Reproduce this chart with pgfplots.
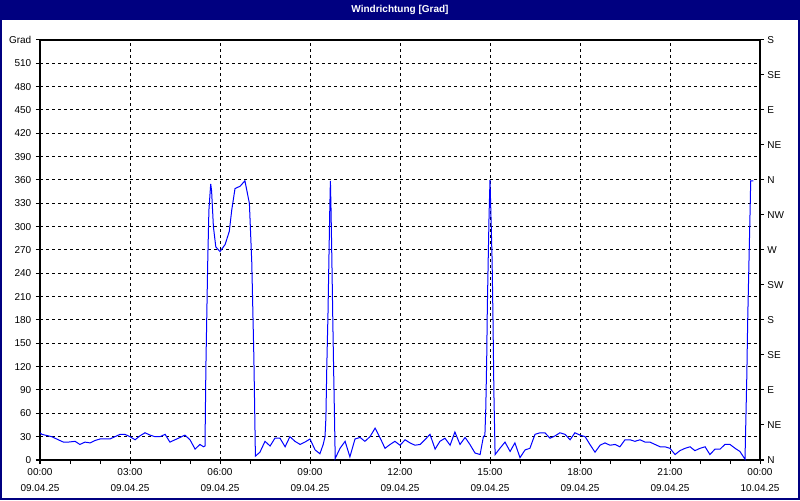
\documentclass[border=0pt]{standalone}
\usepackage{fontspec}
\setmainfont{Liberation Sans}
\usepackage{pgfplots}
\pgfplotsset{compat=1.18}
\definecolor{titlenavy}{RGB}{0,0,128}
\definecolor{lineblue}{RGB}{0,0,255}

\begin{document}
\begin{tikzpicture}
\fill[white] (0pt,0pt) rectangle (600pt,375pt);
\useasboundingbox (0pt,0pt) rectangle (600pt,375pt);
\fill[titlenavy] (0pt,360pt) rectangle (600pt,375pt);
\node[text=white, font=\bfseries\fontsize{7.5}{9}\selectfont] at (300pt,367.5pt) {Windrichtung [Grad]};
\draw[titlenavy, line width=1.5pt] (0.75pt,0.75pt) rectangle (599.25pt,374.25pt);

% main axis: degrees on the left, time on the bottom
\begin{axis}[
  at={(30pt,30pt)}, anchor=south west,
  width=540pt, height=315pt, scale only axis,
  xmin=0, xmax=24, ymin=0, ymax=540,
  xtick={0,3,...,24},
  xticklabels={{00:00\\[3pt]09.04.25},{03:00\\[3pt]09.04.25},{06:00\\[3pt]09.04.25},
    {09:00\\[3pt]09.04.25},{12:00\\[3pt]09.04.25},{15:00\\[3pt]09.04.25},
    {18:00\\[3pt]09.04.25},{21:00\\[3pt]09.04.25},{00:00\\[3pt]10.04.25}},
  minor xtick={1,2,4,5,7,8,10,11,13,14,16,17,19,20,22,23},
  xtick pos=left, ytick pos=left,
  ytick={0,30,...,540},
  yticklabels={0,30,60,90,120,150,180,210,240,270,300,330,360,390,420,450,480,510,Grad},
  grid=major,
  major grid style={black, dash pattern=on 2.25pt off 2.25pt, line width=0.75pt},
  tick align=outside, major tick length=3pt, minor tick length=3pt,
  axis line style={black, line width=1.1pt},
  tick style={black, line width=0.75pt},
  ticklabel style={font=\fontsize{7.5}{9}\selectfont},
  xticklabel style={align=center},
]
\addplot[lineblue, line width=0.75pt] coordinates {
(0,35) (0.06,33) (0.39,30) (0.61,26) (0.78,23) (0.94,23) (1.17,24) (1.33,20) (1.5,23) (1.67,22)
(1.83,25) (2.0,27) (2.33,27) (2.5,30) (2.67,33) (2.83,33) (3.0,30) (3.17,26) (3.33,31) (3.5,35)
(3.67,32) (3.83,30) (4.0,30) (4.17,33) (4.33,23) (4.5,26) (4.67,29) (4.83,32) (5.0,26) (5.17,14)
(5.33,20) (5.45,17) (5.5,18) (5.53,120) (5.59,253) (5.63,321) (5.69,355) (5.72,346) (5.78,300)
(5.86,274) (6.0,268) (6.17,277) (6.31,294) (6.39,321) (6.5,349) (6.67,352) (6.83,359) (6.98,330)
(7.06,253) (7.13,130) (7.18,5) (7.33,10) (7.5,24) (7.67,18) (7.83,28) (8.0,28) (8.17,17) (8.33,30)
(8.5,24) (8.67,20) (8.83,23) (9.0,27) (9.17,13) (9.33,8) (9.44,20) (9.5,30) (9.53,54) (9.56,120)
(9.6,189) (9.63,257) (9.66,324) (9.68,359) (9.7,324) (9.73,255) (9.76,180) (9.79,111) (9.82,48)
(9.84,2) (10.0,15) (10.17,24) (10.33,4) (10.5,27) (10.67,29) (10.83,24) (11.0,30) (11.17,41)
(11.33,29) (11.5,15) (11.67,20) (11.83,24) (12.0,19) (12.17,26) (12.33,22) (12.5,19) (12.67,20)
(12.83,26) (13.0,33) (13.17,14) (13.33,24) (13.5,28) (13.67,19) (13.83,36) (14.0,20) (14.17,29)
(14.33,20) (14.5,9) (14.67,7) (14.78,30) (14.83,32) (14.86,67) (14.89,129) (14.91,193) (14.94,257)
(14.97,317) (15.0,360) (15.03,317) (15.07,257) (15.1,180) (15.13,86) (15.17,7) (15.33,15) (15.5,23)
(15.67,11) (15.83,22) (16.0,3) (16.17,13) (16.33,15) (16.5,33) (16.67,35) (16.83,35) (17.0,28)
(17.17,31) (17.33,35) (17.5,33) (17.67,26) (17.83,35) (18.0,32) (18.17,30) (18.33,20) (18.5,10)
(18.67,19) (18.83,22) (19.0,19) (19.17,20) (19.33,17) (19.5,26) (19.67,26) (19.83,24) (20.0,26)
(20.17,23) (20.33,23) (20.5,20) (20.67,17) (20.83,17) (21.0,15) (21.17,7) (21.33,12) (21.5,15)
(21.67,17) (21.83,12) (22.0,15) (22.17,17) (22.33,7) (22.5,14) (22.67,14) (22.83,20) (23.0,20)
(23.17,15) (23.33,11) (23.5,1) (23.52,36) (23.56,107) (23.59,180) (23.63,251) (23.67,321)
(23.69,359) (23.78,359)
};
\end{axis}

% right axis: compass directions
\begin{axis}[
  at={(30pt,30pt)}, anchor=south west,
  width=540pt, height=315pt, scale only axis,
  xmin=0, xmax=24, ymin=0, ymax=540,
  axis x line=none, axis y line*=right,
  ytick={0,45,...,540},
  yticklabels={N,NE,E,SE,S,SW,W,NW,N,NE,E,SE,S},
  tick align=outside, major tick length=3pt,
  axis line style={black, line width=1.1pt, -},
  tick style={black, line width=0.75pt},
  ticklabel style={font=\fontsize{7.5}{9}\selectfont},
  yticklabel style={anchor=west, xshift=-1pt},
]
\end{axis}
\end{tikzpicture}
\end{document}
